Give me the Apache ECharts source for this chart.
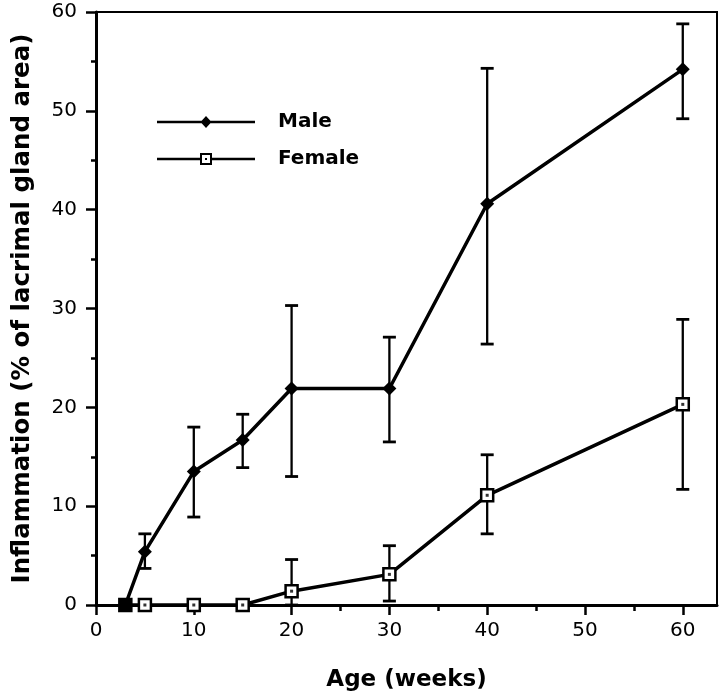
<!DOCTYPE html>
<html>
<head>
<meta charset="utf-8">
<script src="https://cdn.jsdelivr.net/npm/echarts@6/dist/echarts.min.js"></script>
<style>
html,body{margin:0;padding:0;background:#fff;}
#chart{width:720px;height:698px;}
</style>
</head>
<body>
<div id="chart"></div>
<script>
// ---- data ----
const ages = [3, 5, 10, 15, 20, 30, 40, 60];
const maleMean = [0, 5.4, 13.5, 16.7, 21.9, 21.9, 40.6, 54.2];
const femaleMean = [0, 0, 0, 0, 1.4, 3.1, 11.1, 20.3];

const maleErrAges = [5, 10, 15, 20, 30, 40, 60];
const maleErrLow = [3.7, 8.9, 13.9, 13.0, 16.5, 26.4, 49.2];
const maleErrHigh = [7.2, 18.0, 19.3, 30.3, 27.1, 54.3, 58.8];

const femaleErrAges = [20, 30, 40, 60];
const femaleErrLow = [0, 0.4, 7.2, 11.7];
const femaleErrHigh = [4.6, 6.0, 15.2, 28.9];

const xMajorTicks = [0, 10, 20, 30, 40, 50, 60];
const xMinorTicks = [5, 15, 25, 35, 45, 55];

const xTitle = 'Age (weeks)';
const yTitle = 'Inflammation (% of lacrimal gland area)';
const seriesNames = ['Male', 'Female'];

// ---- build ----
const FONT = 'DejaVu Sans';
const maleData = ages.map((a, i) => [a, maleMean[i]]);
const femaleData = ages.map((a, i) => i === 0
  ? { value: [a, femaleMean[i]], itemStyle: { color: '#000' } }
  : [a, femaleMean[i]]);
const femaleDotData = ages.slice(1).map((a, i) => [a, femaleMean[i + 1]]);
const maleErr = maleErrAges.map((a, i) => [a, maleErrLow[i], maleErrHigh[i]]);
const femaleErr = femaleErrAges.map((a, i) => [a, femaleErrLow[i], femaleErrHigh[i]]);

function errRender(params, api) {
  const x = api.value(0), lo = api.value(1), hi = api.value(2);
  const p1 = api.coord([x, hi]);
  const p2 = api.coord([x, lo]);
  const w = 6.5;
  const st = { stroke: '#000', lineWidth: 2.3 };
  return {
    type: 'group',
    children: [
      { type: 'line', shape: { x1: p1[0], y1: p1[1], x2: p2[0], y2: p2[1] }, style: st },
      { type: 'line', shape: { x1: p1[0] - w, y1: p1[1], x2: p1[0] + w, y2: p1[1] }, style: { stroke: '#000', lineWidth: 2.8 } },
      { type: 'line', shape: { x1: p2[0] - w, y1: p2[1], x2: p2[0] + w, y2: p2[1] }, style: { stroke: '#000', lineWidth: 2.8 } }
    ]
  };
}

const maleIcon = 'path://M0,4.75H46V7.25H0Z M49,0L54.5,6L49,12L43.5,6Z M52,4.75H98V7.25H52Z';
const femaleIcon = 'path://M43,0H55V12H43Z M45,2V10H53V2Z M48,5H50V7H48Z M0,4.75H43V7.25H0Z M55,4.75H98V7.25H55Z';

const chart = echarts.init(document.getElementById('chart'), null, { renderer: 'canvas' });
chart.setOption({
  animation: false,
  backgroundColor: '#fff',
  textStyle: { fontFamily: FONT, color: '#000' },
  grid: {
    left: 96, right: 3, top: 12, bottom: 93,
    show: true, borderColor: '#000', borderWidth: 2, backgroundColor: 'transparent'
  },
  legend: {
    orient: 'vertical',
    left: 152, top: 107,
    itemWidth: 98, itemHeight: 12, itemGap: 17,
    selectedMode: false,
    itemStyle: { color: '#000', borderWidth: 0 },
    textStyle: { fontFamily: FONT, fontSize: 20, fontWeight: 'bold', color: '#000', padding: [0, 0, 0, 18] },
    data: [
      { name: seriesNames[0], icon: maleIcon },
      { name: seriesNames[1], icon: femaleIcon }
    ]
  },
  xAxis: [
    {
      type: 'value', min: 0, max: 63.5, position: 'bottom',
      axisLine: { show: true, onZero: false, lineStyle: { color: '#000', width: 3 } },
      axisTick: { show: true, customValues: xMajorTicks, length: 10, lineStyle: { color: '#000', width: 2.5 } },
      axisLabel: { customValues: xMajorTicks, margin: 16, fontSize: 20, color: '#000', fontFamily: FONT },
      splitLine: { show: false },
      name: xTitle, nameLocation: 'middle', nameGap: 64,
      nameTextStyle: { fontFamily: FONT, fontSize: 23, fontWeight: 'bold', color: '#000' }
    },
    {
      type: 'value', min: 0, max: 63.5, position: 'bottom',
      axisLine: { show: false, onZero: false },
      axisTick: { show: true, customValues: xMinorTicks, length: 6, lineStyle: { color: '#000', width: 2.5 } },
      axisLabel: { show: false },
      splitLine: { show: false }
    }
  ],
  yAxis: {
    type: 'value', min: 0, max: 60, interval: 10,
    axisLine: { show: true, onZero: false, lineStyle: { color: '#000', width: 3 } },
    axisTick: { show: true, length: 10, lineStyle: { color: '#000', width: 2.5 } },
    minorTick: { show: true, splitNumber: 2, length: 5, lineStyle: { color: '#000', width: 2.5 } },
    axisLabel: { margin: 19, fontSize: 20, color: '#000', fontFamily: FONT },
    splitLine: { show: false },
    minorSplitLine: { show: false },
    name: yTitle, nameLocation: 'middle', nameGap: 61,
    nameTextStyle: { fontFamily: FONT, fontSize: 24.5, fontWeight: 'bold', color: '#000' }
  },
  series: [
    {
      type: 'custom', name: 'maleErr', renderItem: errRender, data: maleErr,
      encode: { x: 0, y: [1, 2] }, z: 1, silent: true
    },
    {
      type: 'custom', name: 'femaleErr', renderItem: errRender, data: femaleErr,
      encode: { x: 0, y: [1, 2] }, z: 1, silent: true
    },
    {
      type: 'line', name: seriesNames[0], data: maleData,
      symbol: 'diamond', symbolSize: 14, showAllSymbol: true,
      itemStyle: { color: '#000' },
      lineStyle: { color: '#000', width: 3.5 }, z: 3
    },
    {
      type: 'line', name: seriesNames[1], data: femaleData,
      symbol: 'rect', symbolSize: 12, showAllSymbol: true,
      itemStyle: { color: '#fff', borderColor: '#000', borderWidth: 2.5 },
      lineStyle: { color: '#000', width: 3.5 }, z: 4
    },
    {
      type: 'scatter', name: 'femaleDot', data: femaleDotData,
      symbol: 'rect', symbolSize: 3, itemStyle: { color: '#000' }, z: 5, silent: true
    }
  ]
});
</script>
</body>
</html>
